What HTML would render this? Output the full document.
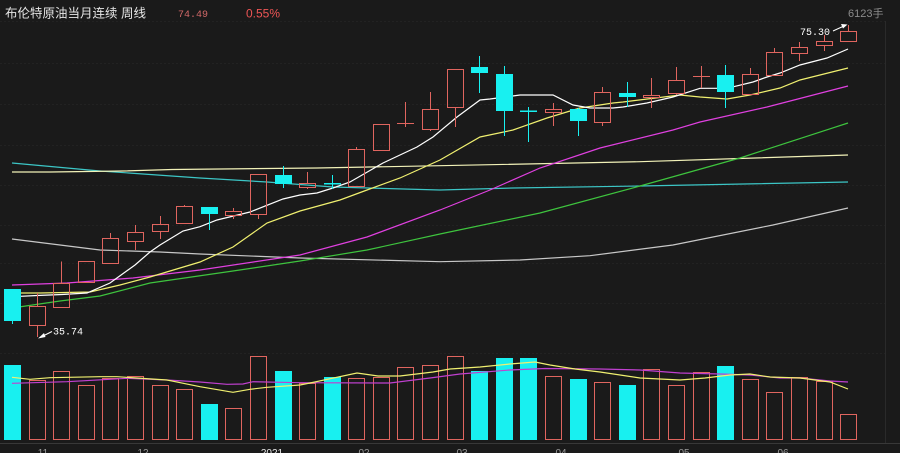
<!DOCTYPE html>
<html><head><meta charset="utf-8"><style>
html,body{margin:0;padding:0;background:#1a1a1a;}
body{width:900px;height:453px;overflow:hidden;position:relative;}
svg{position:absolute;left:0;top:0;}
</style></head><body>
<svg width="900" height="453" viewBox="0 0 900 453" xmlns="http://www.w3.org/2000/svg">
<rect width="900" height="453" fill="#1a1a1a"/>
<!-- grid / frame -->
<g stroke="#222222" stroke-width="1" stroke-dasharray="2,2">
<line x1="0" y1="21.5" x2="885" y2="21.5"/>
<line x1="0" y1="63.5" x2="885" y2="63.5"/>
<line x1="0" y1="104.5" x2="885" y2="104.5"/>
<line x1="0" y1="145.5" x2="885" y2="145.5"/>
<line x1="0" y1="185.5" x2="885" y2="185.5"/>
<line x1="0" y1="225.5" x2="885" y2="225.5"/>
<line x1="0" y1="263.5" x2="885" y2="263.5"/>
<line x1="0" y1="303.5" x2="885" y2="303.5"/>
<line x1="0" y1="353.5" x2="885" y2="353.5"/>
</g>
<line x1="885.5" y1="21" x2="885.5" y2="443" stroke="#2a2a2a"/>
<line x1="0" y1="443.5" x2="900" y2="443.5" stroke="#383838"/>

<!-- header -->
<text x="5" y="17.5" font-family="'Liberation Sans','Noto Sans CJK SC',sans-serif" font-size="12.5" fill="#e6e6e6">布伦特原油当月连续 周线</text>
<text x="178" y="17" font-family="'Liberation Mono',monospace" font-size="10" fill="#d06868">74.49</text>
<text x="246" y="17.5" font-family="'Liberation Sans',sans-serif" font-size="12" fill="#ee5555">0.55%</text>
<text x="848" y="17" font-family="'Liberation Sans','Noto Sans CJK SC',sans-serif" font-size="11" fill="#8c8c8c">6123手</text>

<!-- long MAs -->
<g fill="none" stroke-width="1.2">
<polyline stroke="#c8c8c8" points="12,239 60,245 100,250 160,252 200,254 300,258 440,261.7 520,260 590,255.7 673,245 773,225 848,208"/>
<polyline stroke="#3cc6c6" points="12,163 100,171 200,178 267,182 333,187 440,190 513,188 640,186 848,182"/>
<polyline stroke="#f2f2b8" points="12,172 50,172 123,171 172,169.5 220,169 317,168 440,165.7 640,161.7 848,155"/>
<polyline stroke="#3ec43e" points="12,308 60,301 100,296 150,283 233,271 300,261 367,250 440,234 540,213 640,186 740,158 848,123"/>
<polyline stroke="#e040e0" points="12,285 67,283 133,278 200,270 300,255 367,237 440,210 490,190 540,168 600,148 673,130 700,122 767,107 848,86"/>
<polyline stroke="#f0f070" points="13,293 40,293 90,292 120,285 150,277 200,262 233,247 267,223 300,211 340,200 367,190 400,178 440,160 480,137 513,130 547,118 580,108 613,103 623,102 680,95 700,97 727,99 750,95 780,88 800,80 848,68"/>
<polyline stroke="#ffffff" points="13,296.7 37,295.5 62,294.5 87,293 110,283 135,265 150,252 160,245 183,231 200,226.7 217,220 250,212 283,199 300,195 317,193 333,188 350,182 383,163 417,147 433,137 457,117 480,100 490,99 520,95 553,95 573,105 590,108 613,108 623,107 647,103 673,97 700,88.3 727,88.3 753,82 767,77 780,73 800,65 827,58 848,49"/>
</g>

<!-- candles: cyan (down) -->
<g stroke="#18f0f0" fill="#18f0f0" stroke-width="1">
<line x1="12.5" y1="289" x2="12.5" y2="324"/><rect x="4" y="289" width="17" height="32" stroke="none"/>
<line x1="209.5" y1="207" x2="209.5" y2="230"/><rect x="201" y="207" width="17" height="7" stroke="none"/>
<line x1="283.5" y1="166" x2="283.5" y2="188"/><rect x="275" y="175" width="17" height="9" stroke="none"/>
<line x1="332.5" y1="175" x2="332.5" y2="189"/><rect x="324" y="183" width="17" height="1.5" stroke="none"/>
<line x1="479.5" y1="56" x2="479.5" y2="93"/><rect x="471" y="67" width="17" height="6" stroke="none"/>
<line x1="504.5" y1="66" x2="504.5" y2="136"/><rect x="496" y="74" width="17" height="37" stroke="none"/>
<line x1="528.5" y1="107" x2="528.5" y2="142"/><rect x="520" y="110.5" width="17" height="1.5" stroke="none"/>
<line x1="578.5" y1="108" x2="578.5" y2="136"/><rect x="570" y="109" width="17" height="12" stroke="none"/>
<line x1="627.5" y1="82" x2="627.5" y2="107"/><rect x="619" y="93" width="17" height="4" stroke="none"/>
<line x1="725.5" y1="65" x2="725.5" y2="108"/><rect x="717" y="75" width="17" height="17" stroke="none"/>
</g>

<!-- candles: red (up, hollow) -->
<g stroke="#e0655f" fill="none" stroke-width="1">
<rect x="29.5" y="306.5" width="16" height="19"/><line x1="37.5" y1="293" x2="37.5" y2="306.5"/><line x1="37.5" y1="325.5" x2="37.5" y2="337"/>
<rect x="53.5" y="283.5" width="16" height="24"/><line x1="61.5" y1="261.5" x2="61.5" y2="283.5"/>
<rect x="78.5" y="261.5" width="16" height="21"/>
<rect x="102.5" y="238.5" width="16" height="25"/><line x1="110.5" y1="233" x2="110.5" y2="238.5"/>
<rect x="127.5" y="232.5" width="16" height="9"/><line x1="135.5" y1="225" x2="135.5" y2="232.5"/><line x1="135.5" y1="241.5" x2="135.5" y2="250"/>
<rect x="152.5" y="224.5" width="16" height="7"/><line x1="160.5" y1="216" x2="160.5" y2="224.5"/><line x1="160.5" y1="231.5" x2="160.5" y2="239"/>
<rect x="176.5" y="206.5" width="16" height="17"/><line x1="184.5" y1="205" x2="184.5" y2="206.5"/>
<rect x="225.5" y="211.5" width="16" height="4"/><line x1="233.5" y1="208" x2="233.5" y2="211.5"/><line x1="233.5" y1="215.5" x2="233.5" y2="219"/>
<rect x="250.5" y="174.5" width="16" height="40"/><line x1="258.5" y1="214.5" x2="258.5" y2="219"/>
<rect x="299.5" y="183.5" width="16" height="4"/><line x1="307.5" y1="172" x2="307.5" y2="183.5"/><line x1="307.5" y1="187.5" x2="307.5" y2="189"/>
<rect x="348.5" y="149.5" width="16" height="37"/><line x1="356.5" y1="147" x2="356.5" y2="149.5"/>
<rect x="373.5" y="124.5" width="16" height="26"/>
<line x1="405.5" y1="102" x2="405.5" y2="127"/><line x1="397" y1="123.5" x2="414" y2="123.5"/>
<rect x="422.5" y="109.5" width="16" height="20"/><line x1="430.5" y1="92" x2="430.5" y2="109.5"/><line x1="430.5" y1="129.5" x2="430.5" y2="131"/>
<rect x="447.5" y="69.5" width="16" height="38"/><line x1="455.5" y1="107.5" x2="455.5" y2="127"/>
<rect x="545.5" y="109.5" width="16" height="3"/><line x1="553.5" y1="103" x2="553.5" y2="109.5"/><line x1="553.5" y1="112.5" x2="553.5" y2="126"/>
<rect x="594.5" y="92.5" width="16" height="30"/><line x1="602.5" y1="87" x2="602.5" y2="92.5"/><line x1="602.5" y1="122.5" x2="602.5" y2="126"/>
<rect x="643.5" y="95.5" width="16" height="2"/><line x1="651.5" y1="78" x2="651.5" y2="95.5"/><line x1="651.5" y1="97.5" x2="651.5" y2="108"/>
<rect x="668.5" y="80.5" width="16" height="13"/><line x1="676.5" y1="67" x2="676.5" y2="80.5"/><line x1="676.5" y1="93.5" x2="676.5" y2="95"/>
<line x1="701.5" y1="66" x2="701.5" y2="88"/><line x1="693" y1="76.5" x2="710" y2="76.5"/>
<rect x="742.5" y="74.5" width="16" height="20"/><line x1="750.5" y1="68" x2="750.5" y2="74.5"/><line x1="750.5" y1="94.5" x2="750.5" y2="95"/>
<rect x="766.5" y="52.5" width="16" height="23"/><line x1="774.5" y1="48" x2="774.5" y2="52.5"/>
<rect x="791.5" y="47.5" width="16" height="6"/><line x1="799.5" y1="42" x2="799.5" y2="47.5"/><line x1="799.5" y1="53.5" x2="799.5" y2="61"/>
<rect x="816.5" y="41.5" width="16" height="4"/><line x1="824.5" y1="35" x2="824.5" y2="41.5"/><line x1="824.5" y1="45.5" x2="824.5" y2="51"/>
<rect x="840.5" y="31.5" width="16" height="10"/><line x1="848.5" y1="25" x2="848.5" y2="31.5"/><line x1="848.5" y1="41.5" x2="848.5" y2="42"/>
</g>

<!-- annotations -->
<g stroke="#ffffff" fill="#ffffff" stroke-width="1">
<line x1="52" y1="331.5" x2="40" y2="337.5"/><polygon points="38,338.5 44,333 45.5,337" stroke="none"/>
<line x1="833" y1="31" x2="845" y2="25.5"/><polygon points="847.5,24.5 841,24 843,28.5" stroke="none"/>
</g>
<text x="53" y="334.5" font-family="'Liberation Mono',monospace" font-size="10" fill="#ffffff">35.74</text>
<text x="800" y="35" font-family="'Liberation Mono',monospace" font-size="10" fill="#ffffff">75.30</text>

<!-- volume bars -->
<g fill="#18f0f0">
<rect x="4" y="365" width="17" height="75"/>
<rect x="201" y="404" width="17" height="36"/>
<rect x="275" y="371" width="17" height="69"/>
<rect x="324" y="377" width="17" height="63"/>
<rect x="471" y="371" width="17" height="69"/>
<rect x="496" y="358" width="17" height="82"/>
<rect x="520" y="358" width="17" height="82"/>
<rect x="570" y="379" width="17" height="61"/>
<rect x="619" y="385" width="17" height="55"/>
<rect x="717" y="366" width="17" height="74"/>
</g>
<g stroke="#e0655f" fill="none" stroke-width="1">
<rect x="29.5" y="380.5" width="16" height="59"/>
<rect x="53.5" y="371.5" width="16" height="68"/>
<rect x="78.5" y="385.5" width="16" height="54"/>
<rect x="102.5" y="378.5" width="16" height="61"/>
<rect x="127.5" y="376.5" width="16" height="63"/>
<rect x="152.5" y="385.5" width="16" height="54"/>
<rect x="176.5" y="389.5" width="16" height="50"/>
<rect x="225.5" y="408.5" width="16" height="31"/>
<rect x="250.5" y="356.5" width="16" height="83"/>
<rect x="299.5" y="383.5" width="16" height="56"/>
<rect x="348.5" y="378.5" width="16" height="61"/>
<rect x="373.5" y="377.5" width="16" height="62"/>
<rect x="397.5" y="367.5" width="16" height="72"/>
<rect x="422.5" y="365.5" width="16" height="74"/>
<rect x="447.5" y="356.5" width="16" height="83"/>
<rect x="545.5" y="376.5" width="16" height="63"/>
<rect x="594.5" y="382.5" width="16" height="57"/>
<rect x="643.5" y="369.5" width="16" height="70"/>
<rect x="668.5" y="385.5" width="16" height="54"/>
<rect x="693.5" y="372.5" width="16" height="67"/>
<rect x="742.5" y="379.5" width="16" height="60"/>
<rect x="766.5" y="392.5" width="16" height="47"/>
<rect x="791.5" y="377.5" width="16" height="62"/>
<rect x="816.5" y="381.5" width="16" height="58"/>
<rect x="840.5" y="414.5" width="16" height="25"/>
</g>

<!-- volume MAs -->
<g fill="none" stroke-width="1.2">
<polyline stroke="#c040d0" points="12,383.3 67,381.7 127,378.3 167,380 200,382 227,384.3 243,384 253,381.7 300,382.7 390,383 430,378 460,374 510,370 545,368.5 600,369 640,370 680,373 720,374 750,375 780,378 800,378 830,381 848,382"/>
<polyline stroke="#f0f070" points="12,377.3 30,379.3 50,377.7 100,376.7 117,376.7 167,380 200,386.7 233,392.3 250,389.3 267,387.3 300,385 310,383 357,373 378,376 400,376 433,372 450,369 480,367 510,364 535,362 550,365 575,369 600,372 640,378 680,380 705,378 730,375 750,374 770,377 800,378 830,382 848,389"/>
</g>

<!-- x axis labels -->
<g font-family="'Liberation Sans',sans-serif" font-size="10" fill="#9a9a9a" text-anchor="middle">
<text x="43" y="456">11</text>
<text x="143" y="456">12</text>
<text x="272" y="456" fill="#e8e8e8">2021</text>
<text x="364" y="456">02</text>
<text x="462" y="456">03</text>
<text x="561" y="456">04</text>
<text x="684" y="456">05</text>
<text x="783" y="456">06</text>
</g>
</svg>
</body></html>
